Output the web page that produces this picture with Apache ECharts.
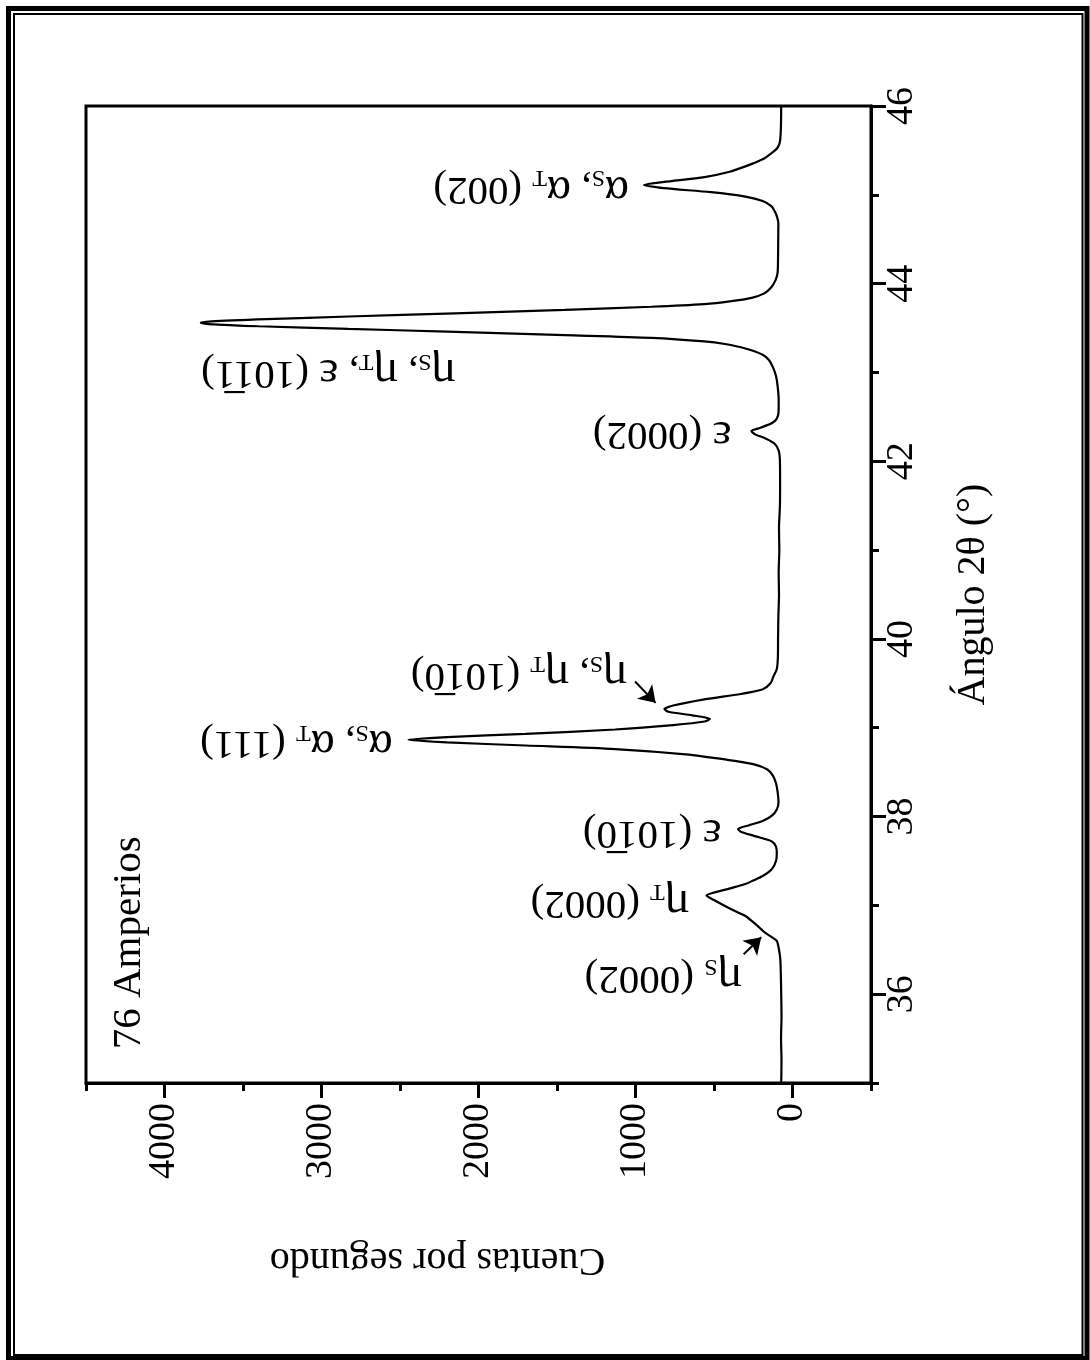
<!DOCTYPE html>
<html>
<head>
<meta charset="utf-8">
<script src="https://cdn.jsdelivr.net/npm/echarts/dist/echarts.min.js"></script>
<style>
html,body{margin:0;padding:0;background:#fff;}
#chart{width:1090px;height:1360px;}
</style>
</head>
<body>
<div id="chart"></div>
<script>
// ---- data (2θ in degrees, counts per second) ----
const angles = [
  35.00, 35.25, 35.50, 35.75, 36.00, 36.20, 36.40, 36.52, 36.60, 36.64, 36.69, 36.78, 36.88, 36.93, 36.99, 37.06,
  37.11, 37.18, 37.24, 37.28, 37.33, 37.41, 37.50, 37.59, 37.66, 37.72, 37.78, 37.83, 37.86, 37.90, 37.95, 38.01,
  38.08, 38.16, 38.28, 38.38, 38.46, 38.53, 38.59, 38.64, 38.70, 38.76, 38.80, 38.835, 38.865, 38.895, 38.93, 38.98,
  39.03, 39.07, 39.10, 39.14, 39.18, 39.21, 39.25, 39.32, 39.38, 39.43, 39.50, 39.58, 39.66, 39.80, 40.00, 40.25,
  40.50, 40.75, 41.00, 41.25, 41.50, 41.75, 42.00, 42.12, 42.20, 42.26, 42.30, 42.34, 42.38, 42.43, 42.48, 42.55,
  42.70, 42.85, 42.96, 43.06, 43.14, 43.20, 43.27, 43.32, 43.35, 43.39, 43.42, 43.46, 43.49, 43.52, 43.545, 43.56,
  43.575, 43.60, 43.63, 43.665, 43.705, 43.74, 43.77, 43.80, 43.84, 43.89, 43.96, 44.04, 44.12, 44.30, 44.50, 44.68,
  44.76, 44.82, 44.87, 44.93, 44.98, 45.03, 45.075, 45.11, 45.145, 45.20, 45.26, 45.32, 45.40, 45.47, 45.53, 45.60,
  45.75, 46.00
];
const counts = [
  72, 70, 73, 70, 72, 74, 78, 88, 100, 130, 173, 230, 300, 360, 427, 500,
  548, 420, 300, 250, 190, 131, 105, 100, 105, 131, 240, 330, 347, 280, 190, 131,
  100, 89, 95, 106, 125, 160, 250, 419, 680, 1130, 1700, 2200, 2446, 2200, 1700, 1130,
  760, 560, 525, 640, 790, 816, 760, 561, 330, 192, 140, 121, 100, 93, 92, 90,
  86, 88, 84, 86, 80, 79, 80, 88, 115, 175, 235, 262, 200, 130, 100, 89,
  88, 95, 105, 125, 150, 190, 300, 430, 561, 900, 1450, 2200, 2828, 3400, 3720, 3769,
  3700, 3350, 2828, 2150, 1450, 900, 561, 400, 260, 180, 135, 108, 95, 92, 91, 90,
  100, 115, 133, 190, 300, 520, 820, 946, 820, 560, 400, 300, 190, 133, 95, 80,
  74, 72
];

// ---- axes ----
const countMin = -500, countMax = 4500;
const countTicks = [0, 1000, 2000, 3000, 4000];
const countMinorTicks = [-500, 500, 1500, 2500, 3500, 4500];
const angleMin = 35, angleMax = 46;
const angleTicks = [36, 38, 40, 42, 44, 46];
const angleMinorTicks = [35, 37, 39, 41, 43, 45];
const countTitle = 'Cuentas por segundo';
const angleTitle = 'Ángulo 2θ (°)';
const panelLabel = '76 Amperios';
const panelLabelPos = [4222, 35.38];

// ---- peak annotations ----
const peakTexts = [
  '{g|α}{s|S}{n|, }{g|α}{s|T}{n| (002)}',
  '{g|η}{s|S}{n|, }{g|η}{s|T}{n|, }{g|ε}{n| (101\u03051)}',
  '{g|ε}{n| (0002)}',
  '{g|η}{s|S}{n|, }{g|η}{s|T}{n| (101\u03050)}',
  '{g|α}{s|S}{n|, }{g|α}{s|T}{n| (111)}',
  '{g|ε}{n| (101\u03050)}',
  '{g|η}{s|T}{n| (0002)}',
  '{g|η}{s|S}{n| (0002)}'
];
const peakLabelCounts = [1041, 2146, 387, 1054, 2546, 451, 660, 324];
const peakLabelAngles = [45.07, 43.00, 42.31, 39.60, 38.83, 37.82, 37.03, 36.19];
const arrowFrom = [[1003, 39.52], [311, 36.45]];
const arrowTo = [[872, 39.28], [199, 36.64]];

const FONT = "'Liberation Serif', 'Times New Roman', serif";
const chart = echarts.init(document.getElementById('chart'), null, {renderer: 'canvas'});

const seriesData = angles.map((a, i) => [counts[i], a]);

const markPointData = peakTexts.map((t, i) => ({
  coord: [peakLabelCounts[i], peakLabelAngles[i]],
  label: {formatter: t, rotate: 180, align: 'left', verticalAlign: 'middle'}
}));
markPointData.push({
  coord: panelLabelPos,
  label: {formatter: '{n|' + panelLabel + '}', rotate: 90, align: 'left', verticalAlign: 'middle'}
});

const option = {
  animation: false,
  backgroundColor: '#fff',
  graphic: [
    {type: 'rect', shape: {x: 8.5, y: 8.5, width: 1078.5, height: 1350}, style: {fill: 'none', stroke: '#000', lineWidth: 5}, silent: true},
    {type: 'rect', shape: {x: 14, y: 14, width: 1068.5, height: 1341}, style: {fill: 'none', stroke: '#000', lineWidth: 2}, silent: true}
  ],
  grid: {left: 86, right: 219, top: 106, bottom: 277, show: true, borderColor: '#000', borderWidth: 3, backgroundColor: 'transparent', containLabel: false, outerBoundsMode: 'none'},
  xAxis: [
    {
      type: 'value', min: countMin, max: countMax, inverse: true, position: 'bottom',
      axisLine: {show: true, onZero: false, lineStyle: {color: '#000', width: 3}},
      axisTick: {show: true, inside: false, length: 15, lineStyle: {color: '#000', width: 3}, customValues: countTicks},
      axisLabel: {show: true, rotate: 90, margin: 20, fontSize: 38, fontFamily: FONT, color: '#000', customValues: countTicks, formatter: v => String(v)},
      splitLine: {show: false},
      name: countTitle, nameLocation: 'middle', nameGap: 156, nameRotate: 180,
      nameTextStyle: {fontSize: 40, fontFamily: FONT, color: '#000', padding: [0, 0, 0, 82]}
    },
    {
      type: 'value', min: countMin, max: countMax, inverse: true, position: 'bottom',
      axisLine: {show: false, onZero: false},
      axisTick: {show: true, inside: false, length: 8, lineStyle: {color: '#000', width: 3}, customValues: countMinorTicks},
      axisLabel: {show: false},
      splitLine: {show: false}
    }
  ],
  yAxis: [
    {
      type: 'value', min: angleMin, max: angleMax, position: 'right',
      axisLine: {show: true, onZero: false, lineStyle: {color: '#000', width: 3}},
      axisTick: {show: true, inside: false, length: 15, lineStyle: {color: '#000', width: 3}, customValues: angleTicks},
      axisLabel: {show: true, rotate: 90, margin: 12, fontSize: 38, fontFamily: FONT, color: '#000', customValues: angleTicks, formatter: v => String(v)},
      splitLine: {show: false},
      name: angleTitle, nameLocation: 'middle', nameGap: 82, nameRotate: 90,
      nameTextStyle: {fontSize: 40, fontFamily: FONT, color: '#000'}
    },
    {
      type: 'value', min: angleMin, max: angleMax, position: 'right',
      axisLine: {show: false, onZero: false},
      axisTick: {show: true, inside: false, length: 8, lineStyle: {color: '#000', width: 3}, customValues: angleMinorTicks},
      axisLabel: {show: false},
      splitLine: {show: false}
    }
  ],
  series: [
    {
      type: 'line', xAxisIndex: 0, yAxisIndex: 0,
      data: seriesData,
      showSymbol: false, symbol: 'none',
      smooth: 0.25,
      lineStyle: {color: '#000', width: 2.2},
      silent: true,
      markPoint: {
        symbol: 'circle', symbolSize: 0, silent: true,
        itemStyle: {color: 'transparent'},
        label: {
          show: true, position: 'inside', color: '#000',
          rich: {
            n: {fontSize: 41, fontFamily: FONT, color: '#000', lineHeight: 46},
            g: {fontSize: 46, fontFamily: FONT, color: '#000', lineHeight: 46},
            s: {fontSize: 24, fontFamily: FONT, color: '#000', lineHeight: 16, verticalAlign: 'bottom'}
          }
        },
        data: markPointData
      },
      markLine: {
        silent: true, symbol: ['none', 'arrow'], symbolSize: 16,
        itemStyle: {color: '#000'},
        lineStyle: {color: '#000', width: 2, type: 'solid'},
        label: {show: false},
        emphasis: {disabled: true},
        data: arrowFrom.map((f, i) => [{coord: f}, {coord: arrowTo[i]}])
      }
    }
  ]
};
chart.setOption(option);
</script>
</body>
</html>
